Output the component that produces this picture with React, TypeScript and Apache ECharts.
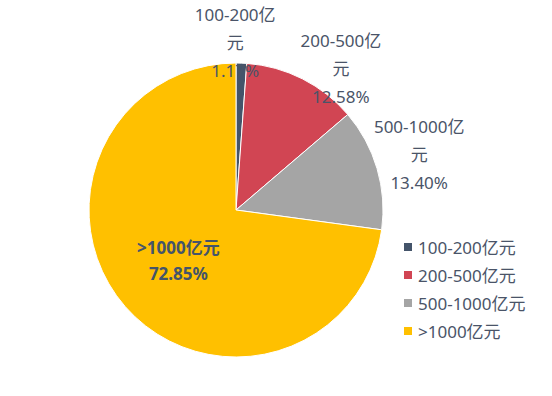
import React, { useEffect, useRef } from "react";
import * as echarts from "echarts";

const categories = ["100-200亿元", "200-500亿元", "500-1000亿元", ">1000亿元"];
const values = [1.17, 12.58, 13.4, 72.85];
const colors = ["#44546A", "#D14553", "#A5A5A5", "#FFC000"];
const labelOffsets = [
  [-7, 0],
  [29, 8],
  [22, -8],
  [0, 0],
];

const textColor = "#4A5468";
const fontFamily = "'Noto Sans', 'Noto Sans CJK SC', sans-serif";

export default function App() {
  const ref = useRef<HTMLDivElement>(null);
  useEffect(() => {
    document.body.style.margin = "0";
    const chart = echarts.init(ref.current!, null, { renderer: "svg" });
    const fmt = (p: any) => p.name + "\n" + Number(p.value).toFixed(2) + "%";
    chart.setOption({
      animation: false,
      color: colors,
      legend: {
        orient: "vertical",
        left: 397,
        top: 233,
        itemWidth: 10,
        itemHeight: 10,
        itemGap: 10,
        icon: "rect",
        textStyle: { color: textColor, fontSize: 17, lineHeight: 18, fontFamily },
        data: categories,
      },
      series: [
        {
          type: "pie",
          center: [236, 210],
          radius: [0, 147],
          startAngle: 90,
          clockwise: true,
          silent: true,
          itemStyle: { borderColor: "#fff", borderWidth: 1 },
          labelLine: { show: false },
          data: categories.map((n, i) => ({
            name: n,
            value: values[i],
            itemStyle: { color: colors[i] },
            label: {
              show: i === 3,
              position: "inside",
              formatter: fmt,
              color: "#44546A",
              fontWeight: "bold",
              fontSize: 17,
              lineHeight: 26,
              fontFamily,
            },
          })),
        },
        {
          type: "pie",
          center: [236, 210],
          radius: [155, 175],
          startAngle: 90,
          clockwise: true,
          silent: true,
          itemStyle: { color: "rgba(0,0,0,0)" },
          labelLine: { show: false },
          label: {
            position: "inside",
            formatter: fmt,
            color: textColor,
            fontSize: 17,
            lineHeight: 28,
            width: 95,
            overflow: "break",
            align: "center",
            fontFamily,
          },
          labelLayout: (params: any) => {
            const o = labelOffsets[params.dataIndex] || [0, 0];
            return { dx: o[0], dy: o[1] };
          },
          data: categories.map((n, i) => ({
            name: n,
            value: values[i],
            label: { show: i < 3 },
          })),
        },
      ],
    });
    return () => chart.dispose();
  }, []);
  return <div ref={ref} style={{ width: 552, height: 396 }} />;
}
